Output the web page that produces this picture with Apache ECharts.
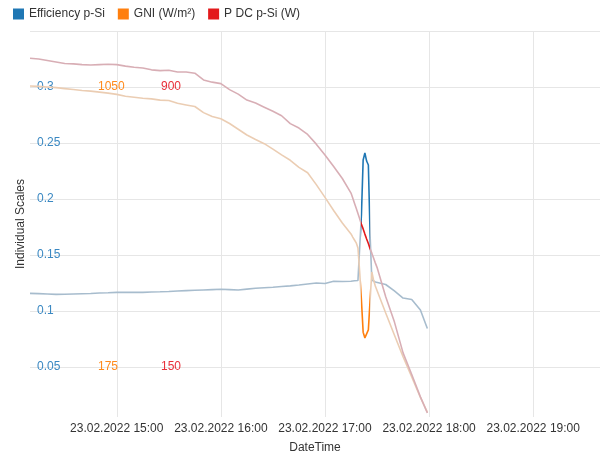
<!DOCTYPE html>
<html>
<head>
<meta charset="utf-8">
<title>p-Si</title>
<script src="https://cdn.jsdelivr.net/npm/echarts@6/dist/echarts.min.js"></script>
<style>
html,body{margin:0;padding:0;background:#fff;}
#main{width:613px;height:457px;}
</style>
</head>
<body>
<div id="main"></div>
<script>
// 时间点 (23.02.2022)
var times = ['14:10','14:15','14:20','14:25','14:30','14:35','14:40','14:45','14:50','14:55',
    '15:00','15:05','15:10','15:15','15:20','15:25','15:30','15:35','15:40','15:45','15:50','15:55',
    '16:00','16:05','16:10','16:15','16:20','16:25','16:30','16:35','16:40','16:45','16:50','16:55',
    '17:00','17:05','17:10','17:15','17:16','17:17','17:18','17:19','17:20','17:21','17:22','17:23',
    '17:24','17:25','17:26','17:27','17:28','17:29','17:30','17:35','17:40','17:45','17:50','17:55','17:59'];
var efficiency = [0.1158,0.1155,0.1152,0.1149,0.1150,0.1152,0.1154,0.1156,0.1161,0.1163,
    0.1167,0.1167,0.1167,0.1167,0.1170,0.1172,0.1175,0.1179,0.1182,0.1185,0.1188,0.1191,
    0.1194,0.1191,0.1188,0.1196,0.1203,0.1208,0.1213,0.1219,0.1225,0.1232,0.1242,0.1250,
    0.1246,0.1266,0.1263,0.1266,0.1268,0.1270,0.1271,0.1272,0.1272,0.1857,0.2348,0.2411,
    0.2339,0.2304,0.1679,0.1277,0.1262,0.1259,0.1256,0.1237,0.1179,0.1116,0.1103,0.1009,0.0844];
var gni = [1053,1052,1050,1048,1045,1042,1039,1037,1034,1031,
    1027,1021,1018,1015,1013,1009,1008,999,994,989,970,958,
    951,936,918,900,886,873,856,838,821,799,782,745,
    705,664,625,591,581,572,563,547,472,384,284,266,
    263,291,384,472,447,428,414,344,275,207,144,80,34];
var pdc = [977,975,971,967,963,962,960,959,960,961,
    960,956,953,951,946,944,945,940,940,937,919,913,
    909,893,881,865,857,846,835,823,802,790,773,747,
    718,687,655,616,603,589,575,561,547,532,520,506,
    493,481,467,455,442,429,417,338,271,188,130,70,27];
var effTicks = [0.05,0.1,0.15,0.2,0.25,0.3];
var gniMarks = {'0.05':'175','0.3':'1050'};
var pdcMarks = {'0.05':'150','0.3':'900'};

var names = ['Efficiency p-Si','GNI (W/m²)','P DC p-Si (W)'];
var fullColor = ['#1f77b4','#ff7f0e','#e31a1c'];
var fadeColor = ['#a7bccd','#ebcdb3','#d8aeb5'];

function ts(hm){
    return new Date('2022-02-23T' + hm + ':00').getTime();
}
function pairs(arr){
    var out = [];
    for(var i = 0; i < times.length; i++){
        out.push([ts(times[i]), arr[i]]);
    }
    return out;
}
function pad(n){ return n < 10 ? '0' + n : '' + n; }

var hiFrom = ts('17:20') + 40000;
var hiTo = ts('17:25') + 50000;
var yMin = 0.0054, yMax = 0.35;

var chart = echarts.init(document.getElementById('main'));
var font = 'Liberation Sans, Arial, sans-serif';
var option = {
    animation: false,
    textStyle: {fontFamily: font},
    legend: {
        left: 8,
        top: 3,
        itemWidth: 11,
        itemHeight: 11,
        itemGap: 13,
        icon: 'rect',
        textStyle: {fontSize: 12, color: '#333', fontFamily: font},
        data: names.map(function(n, i){
            return {name: n, itemStyle: {color: fullColor[i]}};
        })
    },
    grid: {left: 30, right: 13, top: 31, bottom: 40, containLabel: false, outerBoundsMode: 'none'},
    xAxis: {
        type: 'time',
        min: 'dataMin',
        max: ts('19:38') + 30000,
        minInterval: 3600000,
        maxInterval: 3600000,
        name: 'DateTime',
        nameLocation: 'middle',
        nameGap: 25,
        nameTextStyle: {fontSize: 12, color: '#333', fontFamily: font},
        axisLine: {show: false},
        axisTick: {show: false},
        axisLabel: {
            margin: 6,
            fontSize: 12,
            color: '#333',
            fontFamily: font,
            showMinLabel: false,
            showMaxLabel: false,
            formatter: function(v){
                var d = new Date(v);
                return pad(d.getDate()) + '.' + pad(d.getMonth() + 1) + '.' + d.getFullYear() + ' ' + pad(d.getHours()) + ':' + pad(d.getMinutes());
            }
        },
        splitLine: {show: true, showMinLine: false, showMaxLine: false, lineStyle: {color: '#e6e6e6'}}
    },
    yAxis: [{
        type: 'value',
        min: yMin,
        max: yMax,
        name: 'Individual Scales',
        nameLocation: 'middle',
        nameGap: 3,
        nameMoveOverlap: false,
        nameTextStyle: {fontSize: 12, color: '#333', fontFamily: font},
        axisLine: {show: false},
        axisTick: {show: false},
        axisLabel: {
            inside: true,
            margin: 7,
            showMinLabel: false,
            showMaxLabel: false,
            formatter: function(v){
                var key = String(Math.round(v * 100) / 100);
                if(effTicks.indexOf(Number(key)) < 0) return '';
                var s = '{b|' + key + '}';
                if(gniMarks[key]) s += '{o|' + gniMarks[key] + '}{r|' + pdcMarks[key] + '}';
                return s;
            },
            rich: {
                b: {color: '#3a88c2', fontSize: 12, width: 61, align: 'left', fontFamily: font},
                o: {color: '#ff8a1c', fontSize: 12, width: 63, align: 'left', fontFamily: font},
                r: {color: '#e8303a', fontSize: 12, align: 'left', fontFamily: font}
            }
        },
        splitLine: {show: true, showMinLine: false, lineStyle: {color: '#e6e6e6'}}
    }, {
        type: 'value', show: false, min: yMin * 3500, max: yMax * 3500, splitLine: {show: false}
    }, {
        type: 'value', show: false, min: yMin * 3000, max: yMax * 3000, splitLine: {show: false}
    }],
    // 高亮区间之外淡化
    visualMap: [0, 1, 2].map(function(i){
        return {
            type: 'piecewise',
            show: false,
            seriesIndex: i,
            dimension: 0,
            pieces: [{gte: hiFrom, lte: hiTo, color: fullColor[i]}],
            outOfRange: {color: fadeColor[i]}
        };
    }),
    series: [
        {name: names[0], type: 'line', yAxisIndex: 0, data: pairs(efficiency)},
        {name: names[1], type: 'line', yAxisIndex: 1, data: pairs(gni)},
        {name: names[2], type: 'line', yAxisIndex: 2, data: pairs(pdc)}
    ].map(function(s, i){
        s.showSymbol = false;
        s.symbol = 'none';
        s.color = fullColor[i];
        s.lineStyle = {width: 1.6};
        return s;
    })
};
chart.setOption(option);
</script>
</body>
</html>
